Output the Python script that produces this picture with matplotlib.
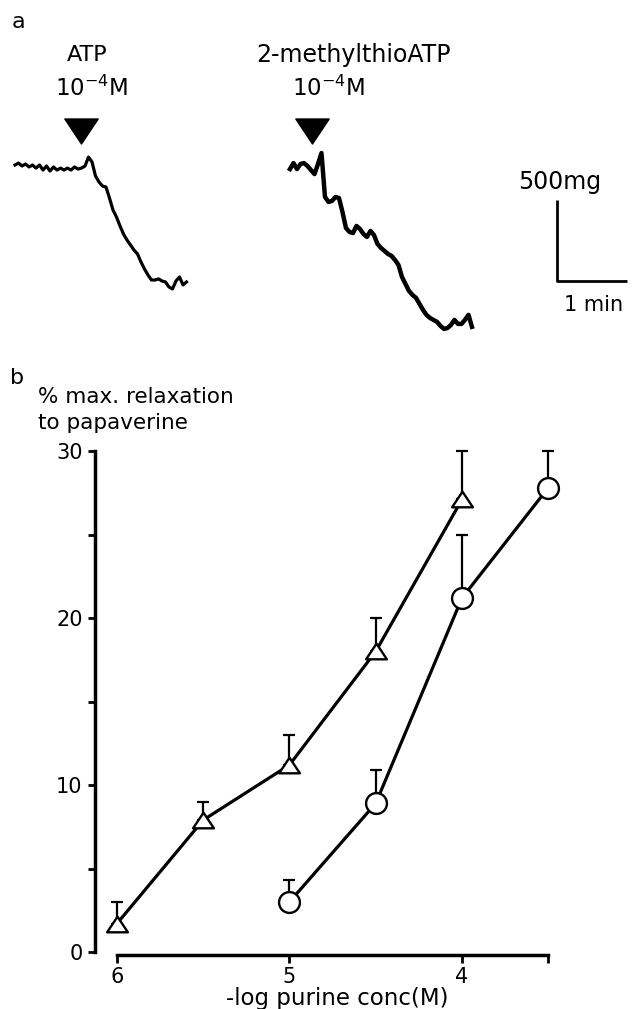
import numpy as np
import matplotlib
matplotlib.use("Agg")
import matplotlib.pyplot as plt
from matplotlib.path import Path

plt.rcParams.update({
    "font.family": ["DejaVu Sans"],
    "mathtext.default": "regular",
})

W, H = 636, 1009

# ── Panel a: isometric tension traces (mg, relative to baseline), one sample every 3 s
dt = 3.0
atp_trace = [0, 12, -6, 6, -12, 0, -19, 0, -31, -6, -37, -12, -31, -19, -31, -19,
             -31, -12, -25, -19, -6, 49, 19, -68, -105, -130, -136, -204, -278,
             -321, -376, -426, -463, -494, -525, -549, -599, -642, -679, -710,
             -710, -703, -716, -722, -753, -765, -716, -691, -740, -722]
mes_trace = [-25, 12, -25, 6, 12, -6, -31, -56, 6, 74, -197, -228, -222, -197,
             -204, -290, -389, -413, -420, -376, -395, -426, -444, -407, -432,
             -487, -512, -530, -549, -561, -586, -617, -691, -734, -777, -802,
             -820, -857, -894, -925, -944, -956, -968, -993, -1012, -1006, -987,
             -956, -981, -981, -956, -925, -999]
atp_start, mes_start = 0.0, 235.7        # s
atp_dose_t, mes_dose_t = 56.6, 254.6     # s, drug added

# ── Panel b: concentration-response (mean, upper SEM)
tri_logc = [6, 5.5, 5, 4.5, 4]
tri_resp = [1.7, 7.9, 11.2, 18.0, 27.1]
tri_sem = [1.3, 1.1, 1.8, 2.0, 2.9]
circ_logc = [5, 4.5, 4, 3.5]
circ_resp = [3.0, 8.9, 21.2, 27.8]
circ_sem = [1.3, 2.0, 3.8, 2.2]

fig = plt.figure(figsize=(W / 100, H / 100), dpi=100)

# ─────────────────────────────────────────────
# a
# ─────────────────────────────────────────────
ax_a = fig.add_axes([0, 1 - 345 / H, 1, 345 / H])
ax_a.set_xlim(-12.86, 532.3)
ax_a.set_ylim(-1111, 1018.5)
ax_a.axis("off")

t1 = atp_start + np.arange(len(atp_trace)) * dt
t2 = mes_start + np.arange(len(mes_trace)) * dt
ax_a.plot(t1, atp_trace, color="k", lw=2.3, solid_joinstyle="round")
ax_a.plot(t2, mes_trace, color="k", lw=3.2, solid_joinstyle="round")

arrow = Path([(-1, 0.75), (1, 0.75), (0, -0.75), (-1, 0.75)], closed=True)
ax_a.plot([atp_dose_t, mes_dose_t], [210, 210], ls="none", marker=arrow,
          ms=24, color="k")

# scale bar: 500 mg / 1 min
sb_t, sb_y = 464.6, -716
ax_a.plot([sb_t, sb_t, sb_t + 60], [sb_y + 500, sb_y, sb_y], color="k", lw=2,
          solid_capstyle="butt")

fig.text(12 / W, 1 - 22 / H, "a", fontsize=16, va="center", ha="left")
fig.text(87 / W, 1 - 55 / H, "ATP", fontsize=16, ha="center", va="center")
fig.text(92 / W, 1 - 88 / H, "10$^{-4}$M", fontsize=16.5, ha="center", va="center")
fig.text(353 / W, 1 - 55 / H, "2-methylthioATP", fontsize=17, ha="center", va="center")
fig.text(329 / W, 1 - 88 / H, "10$^{-4}$M", fontsize=16.5, ha="center", va="center")
fig.text(560 / W, 1 - 182 / H, "500mg", fontsize=17, ha="center", va="center")
fig.text(594 / W, 1 - 305 / H, "1 min", fontsize=15, ha="center", va="center")

# ─────────────────────────────────────────────
# b
# ─────────────────────────────────────────────
ax = fig.add_axes([95 / W, 1 - 952 / H, 465 / W, 512 / H])
ax.set_xlim(6.127, 3.432)
ax.set_ylim(0, 30.66)

tri = Path([(-1, -0.75), (1, -0.75), (0, 0.75), (-1, -0.75)], closed=True)
for x, y, e, mk in [(tri_logc, tri_resp, tri_sem, tri),
                    (circ_logc, circ_resp, circ_sem, "o")]:
    ax.errorbar(x, y, yerr=[np.zeros(len(e)), e], fmt="none", ecolor="k",
                elinewidth=1.6, capsize=4.5, capthick=1.6, zorder=1, clip_on=False)
    ax.plot(x, y, color="k", lw=2.3, zorder=2, clip_on=False)
    ax.plot(x, y, ls="none", marker=mk, ms=15, mfc="white", mec="k", mew=1.7,
            zorder=3, clip_on=False)

for s in ["top", "right"]:
    ax.spines[s].set_visible(False)
ax.spines["left"].set_linewidth(2.5)
ax.spines["bottom"].set_linewidth(2.5)
ax.spines["left"].set_bounds(0, 30)
ax.spines["bottom"].set_bounds(6, 3.5)
ax.spines["bottom"].set_position(("outward", 2))

ax.set_yticks([0, 5, 10, 15, 20, 25, 30])
ax.set_yticklabels(["0", "", "10", "", "20", "", "30"])
ax.set_xticks([6, 5, 4, 3.5])
ax.set_xticklabels(["6", "5", "4", ""])
ax.tick_params(axis="y", direction="out", length=5, width=2, labelsize=15, pad=4)
ax.tick_params(axis="x", direction="out", length=6, width=2, labelsize=15, pad=3)
ax.set_xlabel("-log purine conc(M)", fontsize=16.5)
ax.xaxis.set_label_coords(0.52, -0.068)

fig.text(10 / W, 1 - 378 / H, "b", fontsize=16, va="center", ha="left")
fig.text(38 / W, 1 - 397 / H, "% max. relaxation", fontsize=15.5, va="center", ha="left")
fig.text(38 / W, 1 - 423 / H, "to papaverine", fontsize=15.5, va="center", ha="left")

plt.savefig("out.png", dpi=100)
